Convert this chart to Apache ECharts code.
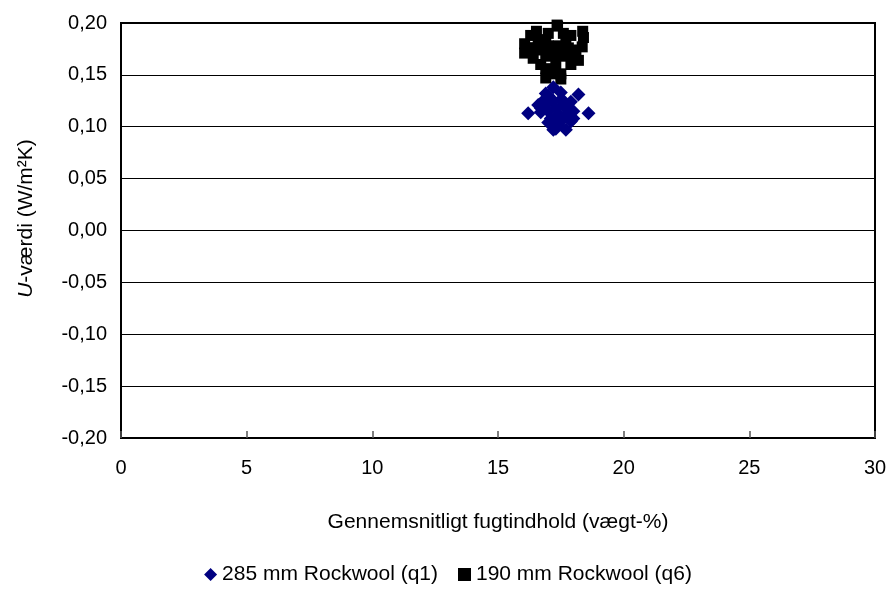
<!DOCTYPE html>
<html><head><meta charset="utf-8">
<script src="https://cdn.jsdelivr.net/npm/echarts@6/dist/echarts.min.js"></script>
<style>html,body{margin:0;padding:0;background:#fff}#c{width:896px;height:592px}</style>
</head><body><div id="c"></div>
<script>
const seriesNames = ['285 mm Rockwool (q1)', '190 mm Rockwool (q6)'];
const q1X = [17.2, 16.2, 18.2, 18.6, 17.2, 17.7, 16.9, 17.5, 17.1, 17.7, 16.7, 17.9, 17.3, 17.0, 17.4, 17.6,
             16.8, 17.2, 17.6, 16.7, 17.0, 17.4, 17.8, 17.0, 17.4, 17.6, 16.9, 17.5, 17.3, 18.0, 17.9, 18.0, 16.6];
const q1Y = [0.138, 0.113, 0.131, 0.113, 0.097, 0.097, 0.121, 0.126, 0.108, 0.111, 0.114, 0.105, 0.118, 0.130, 0.102, 0.120,
             0.125, 0.125, 0.125, 0.118, 0.115, 0.112, 0.118, 0.104, 0.104, 0.108, 0.132, 0.133, 0.098, 0.115, 0.124, 0.108, 0.121];
const q6X = [17.37, 16.53, 18.37, 16.06, 16.06, 16.9, 17.7, 18.1, 18.2, 16.7, 17.1, 17.5, 17.3, 16.7, 16.3, 17.9, 17.6,
             16.6, 17.0, 17.4, 17.8, 16.4, 16.9, 17.7, 18.0, 16.4, 17.3, 16.9, 17.5, 16.9, 17.0, 17.35, 18.4, 17.9, 18.35, 16.2];
const q6Y = [0.197, 0.192, 0.192, 0.180, 0.171, 0.184, 0.184, 0.174, 0.164, 0.160, 0.151, 0.151, 0.169, 0.174, 0.188, 0.160, 0.190,
             0.183, 0.178, 0.178, 0.176, 0.176, 0.168, 0.168, 0.168, 0.166, 0.160, 0.156, 0.146, 0.147, 0.190, 0.198, 0.186, 0.188, 0.177, 0.176];
const font = 'Liberation Sans, Arial, sans-serif';
const chart = echarts.init(document.getElementById('c'));
chart.setOption({
  animation: false,
  grid: {left: 121, right: 21, top: 23, bottom: 154, show: true, borderColor: '#000', borderWidth: 2, backgroundColor: 'transparent'},
  xAxis: {
    type: 'value', min: 0, max: 30, interval: 5,
    name: 'Gennemsnitligt fugtindhold (vægt-%)', nameLocation: 'middle', nameGap: 74,
    nameTextStyle: {fontFamily: font, fontSize: 21, color: '#000'},
    axisLine: {onZero: false, lineStyle: {color: '#000', width: 2}},
    axisTick: {show: true, inside: true, length: 7, lineStyle: {color: '#555', width: 1.5}},
    axisLabel: {fontFamily: font, fontSize: 20, color: '#000', margin: 20},
    splitLine: {show: false}
  },
  yAxis: {
    type: 'value', min: -0.2, max: 0.2, interval: 0.05,
    name: '{i|U}-værdi (W/m²K)', nameLocation: 'middle', nameGap: 84, nameRotate: 90,
    nameTextStyle: {fontFamily: font, fontSize: 21, color: '#000', padding: [0, 0, 0, 24],
      rich: {i: {fontFamily: font, fontSize: 21, fontStyle: 'italic', color: '#000'}}},
    axisLine: {onZero: false, lineStyle: {color: '#000', width: 2}},
    axisTick: {show: false},
    axisLabel: {fontFamily: font, fontSize: 20, color: '#000', margin: 14, formatter: v => v.toFixed(2).replace('.', ',')},
    splitLine: {show: true, lineStyle: {color: '#000', width: 1}}
  },
  legend: {
    bottom: 2, left: 'center', itemGap: 20, itemWidth: 13, itemHeight: 13,
    textStyle: {fontFamily: font, fontSize: 21, color: '#000'},
    data: [{name: seriesNames[0], icon: 'diamond'}, {name: seriesNames[1], icon: 'rect'}]
  },
  series: [
    {name: seriesNames[0], type: 'scatter', symbol: 'diamond', symbolSize: 14, itemStyle: {color: '#000080', opacity: 1},
     data: q1X.map((x, i) => [x, q1Y[i]]), z: 3},
    {name: seriesNames[1], type: 'scatter', symbol: 'rect', symbolSize: 11, itemStyle: {color: '#000', opacity: 1},
     data: q6X.map((x, i) => [x, q6Y[i]]), z: 2}
  ]
});
</script></body></html>
